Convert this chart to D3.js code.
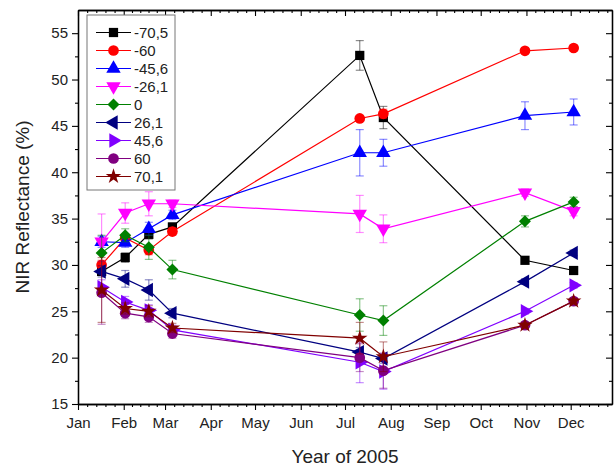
<!DOCTYPE html>
<html>
<head>
<meta charset="utf-8">
<script src="https://cdn.jsdelivr.net/npm/d3@7"></script>
<style>
  body { margin: 0; background: #fff; }
  text { font-family: Arial, "Liberation Sans", sans-serif; }
</style>
</head>
<body>
<svg id="chart" width="615" height="470"></svg>
<script>
// sampling dates
const DATES = ["2005-01-17", "2005-02-02", "2005-02-18", "2005-03-06", "2005-07-11", "2005-07-27", "2005-10-31", "2005-12-03"];
const NAMES = ["-70,5", "-60", "-45,6", "-26,1", "0", "26,1", "45,6", "60", "70,1"];

// NIR reflectance (%) per angle
const V_M70_5 = [29.3, 30.8, 33.3, 34.1, 52.6, 45.9, 30.5, 29.4];
const V_M60 = [30.0, 32.9, 31.6, 33.6, 45.8, 46.3, 53.1, 53.4];
const V_M45_6 = [32.5, 32.4, 33.9, 35.4, 42.1, 42.1, 46.1, 46.5];
const V_M26_1 = [32.5, 35.6, 36.6, 36.6, 35.5, 33.9, 37.8, 35.8];
const V_0 = [31.3, 33.2, 31.9, 29.5, 24.6, 24.0, 34.7, 36.8];
const V_26_1 = [29.3, 28.5, 27.3, 24.8, 20.6, 19.9, 28.2, 31.3];
const V_45_6 = [27.6, 26.0, 25.1, 23.0, 19.5, 18.5, 25.0, 27.8];
const V_60 = [27.0, 24.8, 24.4, 22.6, 20.0, 18.6, 23.5, 26.1];
const V_70_1 = [27.3, 25.3, 25.0, 23.2, 22.1, 20.1, 23.5, 26.1];

// error bars (+/-)
const E_M70_5 = [0.4, 0.5, 0.5, 0.4, 1.6, 1.2, 0.3, 0.3];
const E_M60 = [0.5, 0.4, 0.5, 0.4, 0.3, 0.5, 0.3, 0.3];
const E_M45_6 = [0.6, 0.5, 0.7, 0.5, 2.5, 1.45, 1.5, 1.4];
const E_M26_1 = [3.0, 1.1, 1.3, 0.4, 2.0, 1.5, 0.4, 0.5];
const E_0 = [1.9, 0.7, 1.3, 1.0, 1.75, 1.6, 0.6, 0.5];
const E_26_1 = [0.6, 0.9, 1.1, 0.5, 0.5, 0.5, 0.3, 0.3];
const E_45_6 = [0.8, 0.6, 0.6, 0.5, 2.2, 1.9, 0.3, 0.3];
const E_60 = [3.4, 0.6, 0.6, 0.5, 1.5, 1.9, 0.3, 0.3];
const E_70_1 = [3.5, 0.6, 0.6, 0.5, 1.7, 1.6, 0.3, 0.3];

const Y_TICKS = [15, 20, 25, 30, 35, 40, 45, 50, 55];

const VALUES = [V_M70_5, V_M60, V_M45_6, V_M26_1, V_0, V_26_1, V_45_6, V_60, V_70_1];
const ERRORS = [E_M70_5, E_M60, E_M45_6, E_M26_1, E_0, E_26_1, E_45_6, E_60, E_70_1];

// styles: colour, symbol, rotation
const STYLES = [
  { color: "#000000", sym: d3.symbolSquare, rot: 0, size: 85 },
  { color: "#ff0000", sym: d3.symbolCircle, rot: 0, size: 90 },
  { color: "#0000ff", sym: d3.symbolTriangle, rot: 0, size: 90 },
  { color: "#ff00ff", sym: d3.symbolTriangle, rot: 180, size: 90 },
  { color: "#008000", sym: d3.symbolSquare, rot: 45, size: 72 },
  { color: "#000080", sym: d3.symbolTriangle, rot: -90, size: 90 },
  { color: "#8000ff", sym: d3.symbolTriangle, rot: 90, size: 90 },
  { color: "#800080", sym: d3.symbolCircle, rot: 0, size: 90 },
  { color: "#800000", sym: d3.symbolStar, rot: 0, size: 75 },
];

const parse = d3.utcParse("%Y-%m-%d");
const dates = DATES.map(parse);

const plot = { left: 78, right: 612, top: 10, bottom: 404 };

const svg = d3.select("#chart");

const x = d3.scaleUtc()
  .domain([parse("2005-01-01"), parse("2005-12-29")])
  .range([plot.left, plot.right]);

const y = d3.scaleLinear()
  .domain([15, 57.5])
  .range([plot.bottom, plot.top]);

// axes
const months = d3.utcMonth.range(parse("2005-01-01"), parse("2006-01-01"));
const minorX = [];
months.forEach((m) => {
  const next = d3.utcMonth.offset(m, 1);
  for (let k = 1; k < 5; k++) {
    const t = new Date(+m + (next - m) * k / 5);
    if (t <= x.domain()[1]) minorX.push(t);
  }
});
const minorY = d3.range(17.5, 57.5, 5);

function styleAxis(g) {
  g.selectAll("path.domain").attr("stroke", "#000").attr("stroke-width", 1.3);
  g.selectAll(".tick line").attr("stroke", "#000").attr("stroke-width", 1.1);
  g.selectAll(".tick text").style("font-size", "15px").attr("fill", "#222");
}

svg.append("g")
  .attr("transform", `translate(0,${plot.bottom})`)
  .call(d3.axisBottom(x).tickValues(minorX).tickSize(3).tickSizeOuter(0).tickFormat(""))
  .call(styleAxis);
svg.append("g")
  .attr("transform", `translate(0,${plot.bottom})`)
  .call(d3.axisBottom(x).tickValues(months).tickSize(6).tickSizeOuter(0).tickPadding(7).tickFormat(d3.utcFormat("%b")))
  .call(styleAxis);

svg.append("g")
  .attr("transform", `translate(0,${plot.top})`)
  .call(d3.axisBottom(x).tickValues(minorX).tickSize(3).tickSizeOuter(0).tickFormat(""))
  .call(styleAxis);
svg.append("g")
  .attr("transform", `translate(0,${plot.top})`)
  .call(d3.axisBottom(x).tickValues(months).tickSize(6).tickSizeOuter(0).tickFormat(""))
  .call(styleAxis);

svg.append("g")
  .attr("transform", `translate(${plot.left},0)`)
  .call(d3.axisLeft(y).tickValues(minorY).tickSize(3).tickSizeOuter(0).tickFormat(""))
  .call(styleAxis);
svg.append("g")
  .attr("transform", `translate(${plot.left},0)`)
  .call(d3.axisLeft(y).tickValues(Y_TICKS).tickSize(6).tickSizeOuter(0).tickPadding(4).tickFormat(d3.format("d")))
  .call(styleAxis);

svg.append("g")
  .attr("transform", `translate(${plot.right},0)`)
  .call(d3.axisLeft(y).tickValues(minorY).tickSize(3).tickSizeOuter(0).tickFormat(""))
  .call(styleAxis);
svg.append("g")
  .attr("transform", `translate(${plot.right},0)`)
  .call(d3.axisLeft(y).tickValues(Y_TICKS).tickSize(6).tickSizeOuter(0).tickFormat(""))
  .call(styleAxis);

// axis titles
svg.append("text")
  .attr("x", (plot.left + plot.right) / 2)
  .attr("y", 463)
  .attr("text-anchor", "middle")
  .style("font-size", "19px")
  .attr("fill", "#222")
  .text("Year of 2005");

svg.append("text")
  .attr("transform", `translate(29,${(plot.top + plot.bottom) / 2}) rotate(-90)`)
  .attr("text-anchor", "middle")
  .style("font-size", "19px")
  .attr("fill", "#222")
  .text("NIR Reflectance (%)");

// series
const line = d3.line().x((d) => x(d.date)).y((d) => y(d.value));
const capW = 4;

VALUES.forEach((vals, si) => {
  const st = STYLES[si];
  const pts = vals.map((v, i) => ({ date: dates[i], value: v, err: ERRORS[si][i] }));
  const g = svg.append("g");

  const eb = g.selectAll(".err").data(pts).enter().append("g")
    .attr("stroke", st.color)
    .attr("stroke-opacity", 0.45)
    .attr("stroke-width", 1.2);
  eb.append("line")
    .attr("x1", (d) => x(d.date)).attr("x2", (d) => x(d.date))
    .attr("y1", (d) => y(d.value - d.err)).attr("y2", (d) => y(d.value + d.err));
  eb.append("line")
    .attr("x1", (d) => x(d.date) - capW).attr("x2", (d) => x(d.date) + capW)
    .attr("y1", (d) => y(d.value + d.err)).attr("y2", (d) => y(d.value + d.err));
  eb.append("line")
    .attr("x1", (d) => x(d.date) - capW).attr("x2", (d) => x(d.date) + capW)
    .attr("y1", (d) => y(d.value - d.err)).attr("y2", (d) => y(d.value - d.err));

  g.append("path")
    .datum(pts)
    .attr("d", line)
    .attr("fill", "none")
    .attr("stroke", st.color)
    .attr("stroke-width", 1.2);

  g.selectAll(".pt").data(pts).enter().append("path")
    .attr("d", d3.symbol().type(st.sym).size(st.size))
    .attr("transform", (d) => `translate(${x(d.date)},${y(d.value)}) rotate(${st.rot})`)
    .attr("fill", st.color);
});

// legend
const legend = svg.append("g");
legend.append("rect")
  .attr("x", 87).attr("y", 15)
  .attr("width", 88).attr("height", 175)
  .attr("fill", "#fff")
  .attr("stroke", "#777")
  .attr("stroke-width", 1);

NAMES.forEach((name, i) => {
  const st = STYLES[i];
  const ly = 32.5 + i * 18;
  legend.append("line")
    .attr("x1", 96).attr("x2", 131)
    .attr("y1", ly).attr("y2", ly)
    .attr("stroke", st.color).attr("stroke-width", 1.2);
  legend.append("path")
    .attr("d", d3.symbol().type(st.sym).size(st.size))
    .attr("transform", `translate(113.5,${ly}) rotate(${st.rot})`)
    .attr("fill", st.color);
  legend.append("text")
    .attr("x", 134).attr("y", ly + 5.5)
    .style("font-size", "15px")
    .attr("fill", "#222")
    .text(name);
});
</script>
</body>
</html>
